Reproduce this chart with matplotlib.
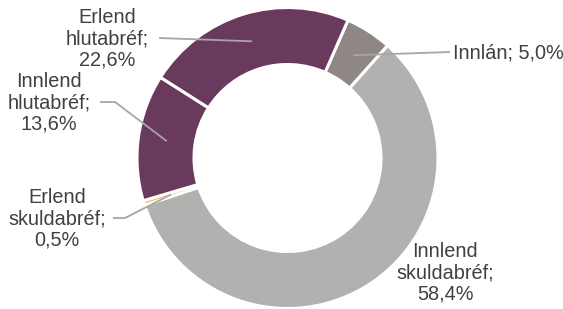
import numpy as np
import matplotlib
matplotlib.use("Agg")
import matplotlib.pyplot as plt

labels = ["Innlán", "Innlend\nskuldabréf", "Erlend\nskuldabréf", "Innlend\nhlutabréf", "Erlend\nhlutabréf"]
values = [5.0, 58.4, 0.5, 13.6, 22.6]
colors = ["#8f8686", "#b1b2b0", "#f2c14e", "#6a3a5d", "#6a3a5d"]

W, H = 563, 309
fig = plt.figure(figsize=(W / 100, H / 100), dpi=100)
ax = fig.add_axes([0, 0, 1, 1])

cx, cy = 287.5, H - 158
R = 150.5
ring = 57
wedges, _ = ax.pie(values, colors=colors, startangle=66.3, counterclock=False,
                   center=(cx, cy), radius=R, frame=True,
                   wedgeprops=dict(width=ring, edgecolor="white", linewidth=2.2))
ax.set_xlim(0, W)
ax.set_ylim(0, H)
ax.axis("off")

plt.rcParams["font.family"] = ["Liberation Sans", "DejaVu Sans"]
fs = 14.3
tc = "#404040"
lc = "#a6a6a6"

def fmt(v):
    return f"{v:.1f}".replace(".", ",") + "%"

# text positions (pixel coords, y downward) and leader elbows
layout = {
    0: dict(text=(453, 53), ha="left", path=[(450, 52)]),
    1: dict(text=(445, 273), ha="center", path=None),
    2: dict(text=(57, 219), ha="center", path=[(113, 218), (125, 218)]),
    3: dict(text=(49, 103), ha="center", path=[(100, 102), (115, 102)]),
    4: dict(text=(107, 39), ha="center", path=[(159, 38)]),
}

rmid = R - ring / 2
for i, w in enumerate(wedges):
    lay = layout[i]
    if i == 0:
        s = f"{labels[i]}; {fmt(values[i])}"
    else:
        s = f"{labels[i]};\n{fmt(values[i])}"
    tx, ty = lay["text"]
    ax.text(tx, H - ty, s, ha=lay["ha"], va="center", fontsize=fs, color=tc,
            linespacing=1.14, fontfamily=["Liberation Sans", "DejaVu Sans"])
    if lay["path"]:
        mid = np.deg2rad((w.theta1 + w.theta2) / 2)
        ex, ey = cx + rmid * np.cos(mid), cy + rmid * np.sin(mid)
        pts = [(px, H - py) for px, py in lay["path"]] + [(ex, ey)]
        xs, ys = zip(*pts)
        ax.plot(xs, ys, color=lc, lw=1.3, solid_capstyle="butt")

fig.savefig("out.png", dpi=100)
